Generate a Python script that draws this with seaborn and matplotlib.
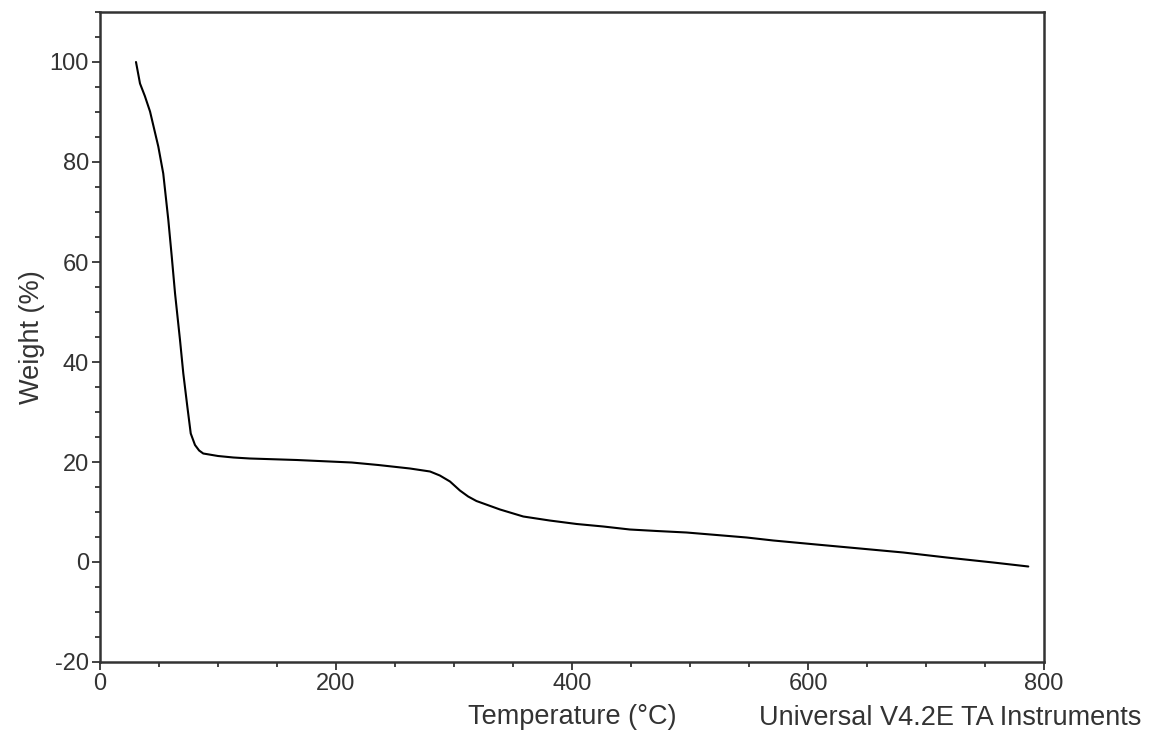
import matplotlib
matplotlib.use("Agg")
import matplotlib.pyplot as plt
import seaborn as sns
import pandas as pd
from matplotlib.ticker import MultipleLocator

# Data
temperature = [30.5, 33.9, 38.0, 42.4, 49.4, 53.6, 57.9, 60.8, 63.6, 67.8, 70.6, 74.0, 76.9,
               80.5, 84.0, 87.5, 100, 113, 127, 166.7, 213.3, 235.8, 262.7, 279.7, 288.0,
               296.6, 305, 312, 319, 339, 358.7, 381, 404, 426.5, 449, 471.8, 497, 522.6,
               548, 570.6, 607, 644, 680.8, 717.5, 757, 786.7]
weight = [100.0, 95.7, 93.2, 90.1, 83.1, 77.7, 68.4, 61.1, 53.7, 44.4, 37.7, 31.1, 25.7,
          23.4, 22.3, 21.7, 21.2, 20.9, 20.7, 20.4, 19.9, 19.4, 18.7, 18.1, 17.3,
          16.1, 14.3, 13.1, 12.2, 10.5, 9.1, 8.3, 7.6, 7.1, 6.5, 6.2, 5.9, 5.4,
          4.9, 4.3, 3.5, 2.7, 1.9, 0.9, -0.1, -0.9]
x_ticks = [0, 200, 400, 600, 800]
y_ticks = [-20, 0, 20, 40, 60, 80, 100]

df = pd.DataFrame({"Temperature": temperature, "Weight": weight})

sns.set_style("ticks")
plt.rcParams["font.family"] = ["Liberation Sans", "DejaVu Sans"]
plt.rcParams["axes.unicode_minus"] = False

fig = plt.figure(figsize=(11.53, 7.36), dpi=100)
ax = fig.add_axes([100 / 1153, 1 - 662 / 736, 944 / 1153, 650 / 736])

sns.lineplot(data=df, x="Temperature", y="Weight", ax=ax, color="black",
             linewidth=1.5, sort=False, estimator=None)

ax.set_xlim(0, 800)
ax.set_ylim(-20, 110)
ax.set_xticks(x_ticks)
ax.set_yticks(y_ticks)
ax.xaxis.set_minor_locator(MultipleLocator(50))
ax.yaxis.set_minor_locator(MultipleLocator(5))

for s in ax.spines.values():
    s.set_color("#333333")
    s.set_linewidth(1.8)

ax.tick_params(axis="both", which="major", direction="out", length=6, width=1.3,
               color="#333333", labelsize=17, labelcolor="#333333", pad=2)
ax.tick_params(axis="both", which="minor", direction="out", length=3.5, width=1.3,
               color="#333333")

ax.set_xlabel("Temperature (°C)", fontsize=19.5, color="#333333")
ax.set_ylabel("Weight (%)", fontsize=19.5, color="#333333")
ax.xaxis.set_label_coords(0.5, -0.064)
ax.yaxis.set_label_coords(-0.058, 0.5)

fig.text(1141 / 1153, 1 - 718 / 736, "Universal V4.2E TA Instruments",
         ha="right", va="center", fontsize=19.5, color="#333333")

fig.savefig("out.png", dpi=100, facecolor="white")
